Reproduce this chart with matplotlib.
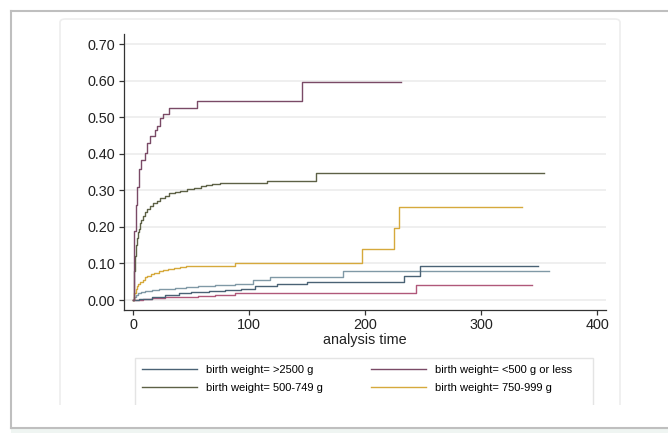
import matplotlib
matplotlib.use("Agg")
import matplotlib.pyplot as plt
from matplotlib.lines import Line2D
from matplotlib.patches import FancyBboxPatch, Rectangle

plt.rcParams["font.family"] = ["Liberation Sans", "DejaVu Sans"]

W, H = 668, 433

# cumulative failure (step) curves
t_2500 = [0, 5, 10, 16, 22, 27, 39, 50, 65, 79, 93, 105, 123.5, 149.5, 233.5, 247, 349]
f_2500 = [0, 0.002, 0.004, 0.007, 0.009, 0.014, 0.018, 0.022, 0.025, 0.027, 0.030,
          0.038, 0.043, 0.048, 0.066, 0.094, 0.094]

t_500 = [0, 0.5, 1, 2, 3, 4.5, 6.5, 10, 11.5, 14.5, 18.5, 20.5, 23, 25.5, 31, 54.5, 145, 230.5]
f_500 = [0, 0.065, 0.19, 0.26, 0.31, 0.357, 0.383, 0.403, 0.428, 0.448, 0.465, 0.476,
         0.497, 0.509, 0.524, 0.544, 0.595, 0.595]

t_749 = [0, 0.5, 1, 1.5, 2, 3, 4, 5, 6, 7, 8, 10, 12, 14, 17, 20, 23, 27, 31, 36, 40,
         46, 52, 58, 63, 68, 75, 115, 157.5, 354]
f_749 = [0, 0.03, 0.08, 0.12, 0.15, 0.17, 0.185, 0.195, 0.21, 0.22, 0.23, 0.24, 0.25,
         0.256, 0.264, 0.272, 0.278, 0.285, 0.292, 0.296, 0.299, 0.303, 0.307, 0.311,
         0.314, 0.317, 0.319, 0.325, 0.346, 0.346]

t_999 = [0, 0.5, 1, 2, 3, 4, 6, 8, 10, 12, 15, 18, 22, 26, 30, 35, 40, 45, 88, 197,
         225, 229, 335]
f_999 = [0, 0.01, 0.02, 0.03, 0.037, 0.043, 0.05, 0.056, 0.062, 0.066, 0.071, 0.075,
         0.079, 0.082, 0.085, 0.087, 0.089, 0.093, 0.1, 0.139, 0.196, 0.253, 0.253]

# two more groups whose legend entries are cut off in the picture
t_g5 = [0, 1, 2, 4, 7, 10, 16, 22, 30, 36, 45, 56, 70, 88, 103.5, 118, 180.5, 358]
f_g5 = [0, 0.008, 0.014, 0.02, 0.023, 0.025, 0.027, 0.029, 0.031, 0.032, 0.035, 0.038,
        0.040, 0.044, 0.056, 0.064, 0.079, 0.079]

t_g6 = [0, 3, 8, 16, 27, 42, 56, 70, 88, 243.7, 344]
f_g6 = [0, 0.001, 0.003, 0.005, 0.008, 0.009, 0.011, 0.014, 0.018, 0.041, 0.041]

labels = ["birth weight= >2500 g", "birth weight= <500 g or less",
          "birth weight= 500-749 g", "birth weight= 750-999 g"]
colors = ["#4a6275", "#7a4a66", "#5d6146", "#d6a93c"]
color_g5 = "#8099a6"
color_g6 = "#b0587a"

yticks = [0, 0.1, 0.2, 0.3, 0.4, 0.5, 0.6, 0.7]
xticks = [0, 100, 200, 300, 400]


def fx(px):
    return px / W


def fy(py):
    return 1 - py / H


fig = plt.figure(figsize=(W / 100, H / 100), dpi=100)
fig.patch.set_facecolor("white")

# faint rounded panel behind the graph
panel = FancyBboxPatch((fx(60), fy(460)), fx(620) - fx(60), fy(19) - fy(460),
                       boxstyle="round,pad=0,rounding_size=0.008",
                       transform=fig.transFigure, facecolor="white",
                       edgecolor="#eeeeee", lw=1.2, zorder=-2)
fig.add_artist(panel)

ax = fig.add_axes([fx(124.3), fy(310), fx(606) - fx(124.3), fy(34) - fy(310)])
ax.set_facecolor("none")

series = [(t_g6, f_g6, color_g6), (t_g5, f_g5, color_g5), (t_2500, f_2500, colors[0]),
          (t_999, f_999, colors[3]), (t_749, f_749, colors[2]), (t_500, f_500, colors[1])]
for t, f, c in series:
    ax.step(t, f, where="post", color=c, lw=1.0)

ax.set_xlim(-7.76, 407.5)
ax.set_ylim(-0.0273, 0.7274)
ax.set_yticks(yticks)
ax.set_yticklabels([f"{v:.2f}" for v in yticks])
ax.set_xticks(xticks)
for v in yticks:
    ax.axhline(v, color="#ececec", lw=1.2, zorder=0)

for s in ["top", "right"]:
    ax.spines[s].set_visible(False)
for s in ["left", "bottom"]:
    ax.spines[s].set_color("#333333")
    ax.spines[s].set_linewidth(0.9)
ax.tick_params(direction="out", length=3.6, width=0.9, color="#333333",
               labelsize=10.4, labelcolor="#222222")
ax.tick_params(axis="y", pad=3)
ax.tick_params(axis="x", pad=2)
ax.set_xlabel("analysis time", fontsize=10.4, color="#222222", labelpad=1)

handles = [Line2D([], [], color=colors[0], lw=1.0), Line2D([], [], color=colors[2], lw=1.0),
           Line2D([], [], color=colors[1], lw=1.0), Line2D([], [], color=colors[3], lw=1.0)]
ax.legend(handles, [labels[0], labels[2], labels[1], labels[3]], ncol=2,
          loc="upper left", bbox_to_anchor=(fx(135), fy(358)),
          bbox_transform=fig.transFigure, frameon=False, fontsize=8,
          handlelength=5.0, handletextpad=0.8, columnspacing=4.3,
          borderpad=0.6, labelspacing=0.75, borderaxespad=0)

# legend box (bottom is cut off by the crop)
fig.add_artist(Rectangle((fx(135), fy(460)), fx(593) - fx(135), fy(358) - fy(460),
                         transform=fig.transFigure, facecolor="none",
                         edgecolor="#e4e4e4", lw=1.0, zorder=1))

# cropped-off area and outer page frame
fig.add_artist(Rectangle((fx(12), fy(427)), 1, fy(405) - fy(427),
                         transform=fig.transFigure, facecolor="white",
                         edgecolor="none", zorder=10))
fig.add_artist(Rectangle((fx(11), 0), 1, fy(428), transform=fig.transFigure,
                         facecolor="#eff5f2", edgecolor="none", zorder=10))
frame_kw = dict(transform=fig.transFigure, color="#bfbfbf", lw=1.5, zorder=11)
fig.add_artist(Line2D([fx(10.7), 1], [fy(11), fy(11)], **frame_kw))
fig.add_artist(Line2D([fx(10.7), fx(10.7)], [fy(11), fy(428)], **frame_kw))
fig.add_artist(Line2D([fx(10.7), 1], [fy(427.7), fy(427.7)], **frame_kw))

fig.savefig("out.png", dpi=100)
